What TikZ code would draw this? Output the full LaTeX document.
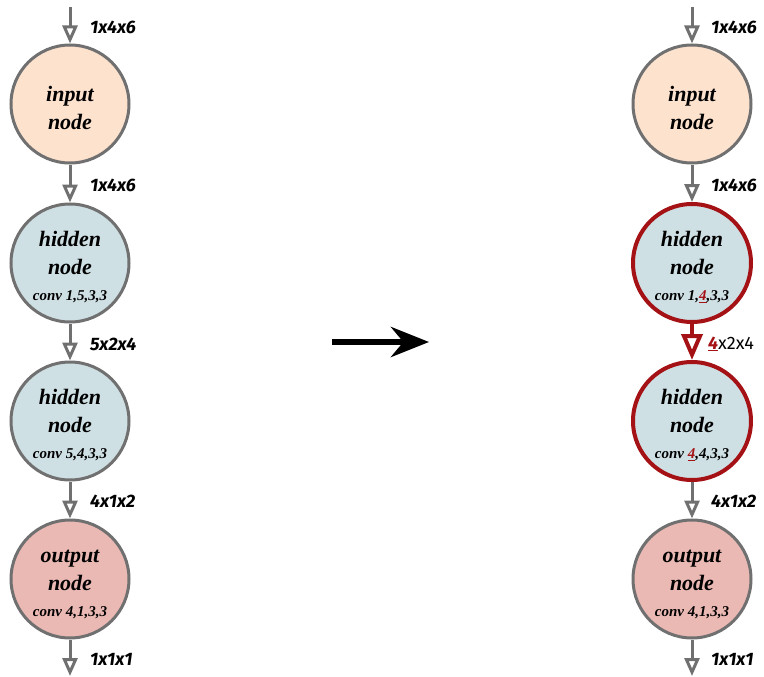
\documentclass[tikz,border=0pt]{standalone}
\usepackage{fontspec}
\usetikzlibrary{arrows.meta}
\newfontfamily\labfont{Fira Sans}
\newfontfamily\cellfont{Liberation Serif}
\definecolor{edge}{RGB}{112,112,112}
\definecolor{dred}{RGB}{165,18,22}
\definecolor{inbg}{RGB}{253,226,206}
\definecolor{hidbg}{RGB}{207,224,228}
\definecolor{outbg}{RGB}{235,185,180}
\newcommand\chg[1]{\textcolor{dred}{\underline{#1}}}

\begin{document}
\begin{tikzpicture}[x=1pt,y=-1pt] %% tikz
	\tikzstyle{cell}=[circle,draw=edge,line width=3pt,minimum size=118pt,inner sep=0pt,align=center,font=\cellfont\fontsize{22}{28}\selectfont\bfseries\itshape];
	\tikzstyle{hot}=[draw=dred,line width=4pt];
	\tikzstyle{dim}=[anchor=west,inner sep=0pt,font=\labfont\fontsize{18}{20}\selectfont\bfseries\itshape];
	\tikzstyle{flow}=[draw=edge,line width=3pt,-{Triangle[open,length=18pt,width=15pt]}];
	\tikzstyle{hotflow}=[draw=dred,line width=4pt,-{Triangle[open,length=26pt,width=21pt]}];
	\def\conv#1{\\[-2pt]{\fontsize{15}{28}\selectfont conv #1}}
	\def\up{\rule{0pt}{24pt}}
	\useasboundingbox (0,0) rectangle (764,677);
	%% left column
	\node[cell,fill=inbg] (in1) at (70,104) {\up input\\node};
	\node[cell,fill=hidbg] (ha1) at (70,263) {\up hidden\\node\conv{1,5,3,3}};
	\node[cell,fill=hidbg] (hb1) at (70,421) {\up hidden\\node\conv{5,4,3,3}};
	\node[cell,fill=outbg] (out1) at (70,579) {\up output\\node\conv{4,1,3,3}};
	\coordinate (top1) at (70,7);
	\coordinate (bot1) at (70,676);
	\draw[flow] (top1) -- (in1);
	\draw[flow] (in1) -- (ha1);
	\draw[flow] (ha1) -- (hb1);
	\draw[flow] (hb1) -- (out1);
	\draw[flow] (out1) -- (bot1);
	%% shapes between layers
	\node[dim] (s1) at (90,27) {1x4x6};
	\node[dim] (s2) at (90,185) {1x4x6};
	\node[dim] (s3) at (90,344) {5x2x4};
	\node[dim] (s4) at (90,501) {4x1x2};
	\node[dim] (s5) at (90,659) {1x1x1};
	%% big arrow
	\coordinate (go1) at (332,342);
	\coordinate (go2) at (429,342);
	\draw[line width=6pt,-{Stealth[length=38pt,width=30pt]}] (go1) -- (go2);
	%% right column
	\node[cell,fill=inbg] (in2) at (692,104) {\up input\\node};
	\node[cell,hot,fill=hidbg] (ha2) at (692,263) {\up hidden\\node\conv{1,\chg{4},3,3}};
	\node[cell,hot,fill=hidbg] (hb2) at (692,421) {\up hidden\\node\conv{\chg{4},4,3,3}};
	\node[cell,fill=outbg] (out2) at (692,579) {\up output\\node\conv{4,1,3,3}};
	\coordinate (top2) at (692,7);
	\coordinate (bot2) at (692,676);
	\draw[flow] (top2) -- (in2);
	\draw[flow] (in2) -- (ha2);
	\draw[hotflow] (ha2) -- (hb2);
	\draw[flow] (hb2) -- (out2);
	\draw[flow] (out2) -- (bot2);
	\node[dim] (t1) at (711,27) {1x4x6};
	\node[dim] (t2) at (711,185) {1x4x6};
	\node[dim] (t3) at (708,344) {\chg{4}{\upshape\mdseries x2x4}};
	\node[dim] (t4) at (711,501) {4x1x2};
	\node[dim] (t5) at (711,659) {1x1x1};
\end{tikzpicture}
\end{document}
